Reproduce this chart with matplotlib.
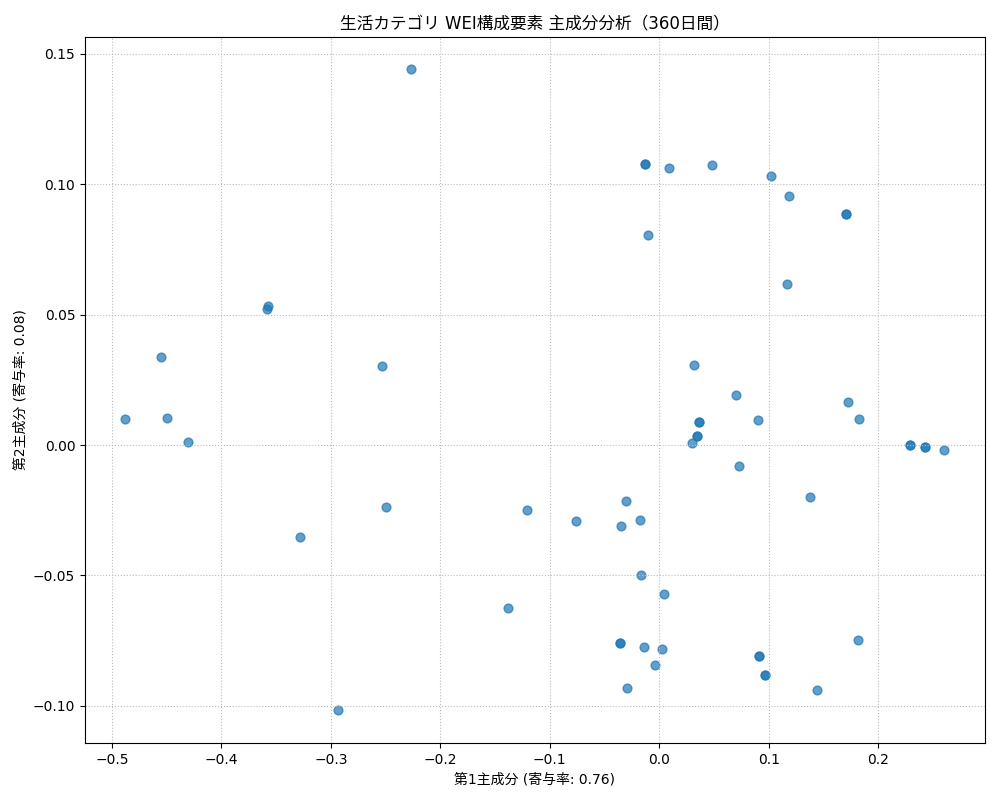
import matplotlib
matplotlib.use("Agg")
import matplotlib.pyplot as plt

plt.rcParams['font.family'] = ['DejaVu Sans', 'Noto Sans CJK JP']
plt.rcParams['axes.unicode_minus'] = True

pc1 = [-0.2265, -0.0128, -0.0128, 0.0091, 0.0484, 0.1023, 0.1187, 0.1708, 0.1708, -0.0100,
       0.1169, -0.3571, -0.358, -0.4548, -0.253, 0.032, 0.0703, 0.1726, -0.4877, -0.4493,
       0.0365, 0.0365, 0.0904, 0.1826, -0.4301, 0.0347, 0.0347, 0.0301, 0.2292, 0.2292,
       0.2429, 0.2429, 0.2603, 0.0731, 0.1379, -0.0301, -0.2493, -0.1205, -0.0758, -0.0174,
       -0.0347, -0.3279, -0.0164, 0.0046, -0.1379, 0.1817, -0.0356, -0.0356, -0.0137, 0.0027,
       0.0913, 0.0913, -0.0037, 0.0968, 0.0968, -0.0292, 0.1443, -0.2932]
pc2 = [0.1442, 0.1078, 0.1078, 0.1063, 0.1074, 0.1032, 0.0955, 0.0886, 0.0886, 0.0806,
       0.0618, 0.0533, 0.0522, 0.0338, 0.0303, 0.0307, 0.0192, 0.0165, 0.0100, 0.0104,
       0.0088, 0.0088, 0.0096, 0.0100, 0.0012, 0.0035, 0.0035, 0.0008, 0.0, 0.0,
       -0.0008, -0.0008, -0.0019, -0.0081, -0.0199, -0.0215, -0.0238, -0.0249, -0.0292, -0.0288,
       -0.0311, -0.0353, -0.0499, -0.0572, -0.0625, -0.0748, -0.0760, -0.0760, -0.0775, -0.0783,
       -0.0809, -0.0809, -0.0844, -0.0882, -0.0882, -0.0932, -0.0940, -0.1016]

fig, ax = plt.subplots(figsize=(10, 8), dpi=100)
ax.scatter(pc1, pc2, alpha=0.7, color='#1f77b4', s=40)
ax.set_title('生活カテゴリ WEI構成要素 主成分分析（360日間）')
ax.set_xlabel('第1主成分 (寄与率: 0.76)')
ax.set_ylabel('第2主成分 (寄与率: 0.08)')
ax.grid(True, linestyle=':', color='#bbbbbb')
ax.set_xlim(-0.5245, 0.2975)
ax.set_ylim(-0.1143, 0.1565)
fig.subplots_adjust(left=0.085, right=0.985, top=0.954, bottom=0.071)
fig.savefig('out.png')
